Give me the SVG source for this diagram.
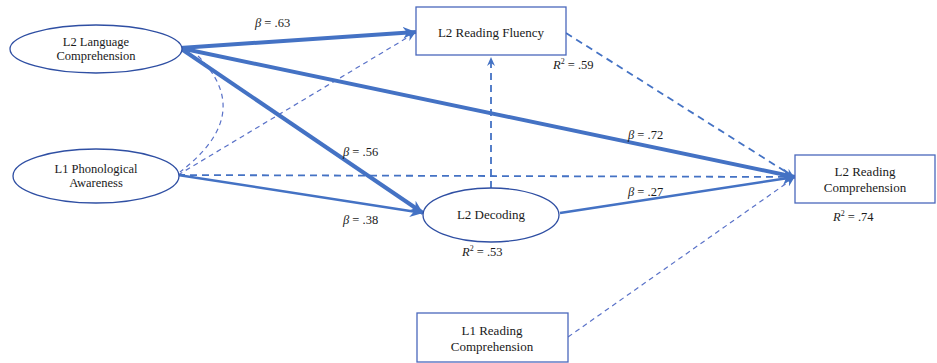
<svg xmlns="http://www.w3.org/2000/svg" width="937" height="363" viewBox="0 0 937 363">
<defs>
<marker id="ah" markerUnits="userSpaceOnUse" markerWidth="14" markerHeight="12" refX="13" refY="6" orient="auto"><path d="M0,0 L13,6 L0,12 L4,6 Z" fill="#4472C4"/></marker>
<marker id="ahs" markerUnits="userSpaceOnUse" markerWidth="10" markerHeight="8" refX="9" refY="4" orient="auto"><path d="M0,0 L9,4 L0,8 L3,4 Z" fill="#4472C4"/></marker>
<style>
.node{fill:#fff;stroke:#2F4FA3;stroke-width:1.3}
.box{fill:#fff;stroke:#4A68BC;stroke-width:1.3}
text{font-family:'Liberation Serif','Times New Roman',serif}
.t{font-size:12.5px;fill:#1a1a1a;text-anchor:middle}
.tb{font-size:13px}
.lab{font-size:12.5px;fill:#1a1a1a}
.thick{stroke:#4472C4;stroke-width:4;fill:none}
.mid{stroke:#4472C4;stroke-width:2.5;fill:none}
.dash{stroke:#4472C4;stroke-width:1.8;fill:none;stroke-dasharray:7 5}
.dthin{stroke:#5A72C8;stroke-width:1.2;fill:none;stroke-dasharray:5 4}
</style>
</defs>
<g id="connectors">
<path class="dthin" d="M198,56 Q256,114 180,172" stroke="#7A6CCB"/>
<line class="dthin" x1="178" y1="175" x2="415" y2="33" marker-end="url(#ahs)"/>
<line class="dash" x1="178" y1="175" x2="794" y2="177" marker-end="url(#ahs)"/>
<line class="dash" x1="566" y1="33" x2="794" y2="177" marker-end="url(#ahs)"/>
<line class="dthin" x1="568" y1="337" x2="794" y2="178" marker-end="url(#ahs)"/>
<line class="dash" x1="491" y1="188" x2="491" y2="57" marker-end="url(#ahs)"/>
<line class="thick" x1="180" y1="48" x2="416" y2="32" marker-end="url(#ah)"/>
<line class="thick" x1="180" y1="48" x2="795" y2="177" marker-end="url(#ah)"/>
<line class="thick" x1="180" y1="48" x2="423" y2="213" marker-end="url(#ah)"/>
<line class="mid" x1="178" y1="175" x2="423" y2="213" marker-end="url(#ah)"/>
<line class="mid" x1="560" y1="213" x2="795" y2="177" marker-end="url(#ah)"/>
</g>
<g id="n-l2lc"><ellipse class="node" cx="96" cy="49" rx="86" ry="24"/><text class="t" x="96" y="46" font-family="Liberation Serif, serif">L2 Language</text><text class="t" x="96" y="60" font-family="Liberation Serif, serif">Comprehension</text></g>
<g id="n-l1pa"><ellipse class="node" cx="96" cy="176" rx="83" ry="27"/><text class="t" x="96" y="173">L1 Phonological</text><text class="t" x="96" y="187">Awareness</text></g>
<g id="n-flu"><rect class="box" x="416" y="7" width="150" height="48"/><text class="t tb" x="491" y="37">L2 Reading Fluency</text></g>
<g id="n-dec"><ellipse class="node" cx="491" cy="215" rx="68" ry="27"/><text class="t tb" x="491" y="219">L2 Decoding</text></g>
<g id="n-rc"><rect class="box" x="795" y="155" width="140" height="48"/><text class="t tb" x="865" y="176">L2 Reading</text><text class="t tb" x="865" y="192">Comprehension</text></g>
<g id="n-l1rc"><rect class="box" x="417" y="313" width="151" height="49"/><text class="t tb" x="492" y="335">L1 Reading</text><text class="t tb" x="492" y="351">Comprehension</text></g>
<g id="labels">
<text class="lab" x="255" y="27"><tspan font-style="italic">β</tspan> = .63</text>
<text class="lab" x="343" y="156"><tspan font-style="italic">β</tspan> = .56</text>
<text class="lab" x="343" y="224"><tspan font-style="italic">β</tspan> = .38</text>
<text class="lab" x="628" y="139"><tspan font-style="italic">β</tspan> = .72</text>
<text class="lab" x="628" y="196"><tspan font-style="italic">β</tspan> = .27</text>
<text class="lab" x="553" y="69"><tspan font-style="italic">R</tspan><tspan font-size="8" dy="-5">2</tspan><tspan dy="5"> = .59</tspan></text>
<text class="lab" x="462" y="256"><tspan font-style="italic">R</tspan><tspan font-size="8" dy="-5">2</tspan><tspan dy="5"> = .53</tspan></text>
<text class="lab" x="833" y="221"><tspan font-style="italic">R</tspan><tspan font-size="8" dy="-5">2</tspan><tspan dy="5"> = .74</tspan></text>
</g>
</svg>
